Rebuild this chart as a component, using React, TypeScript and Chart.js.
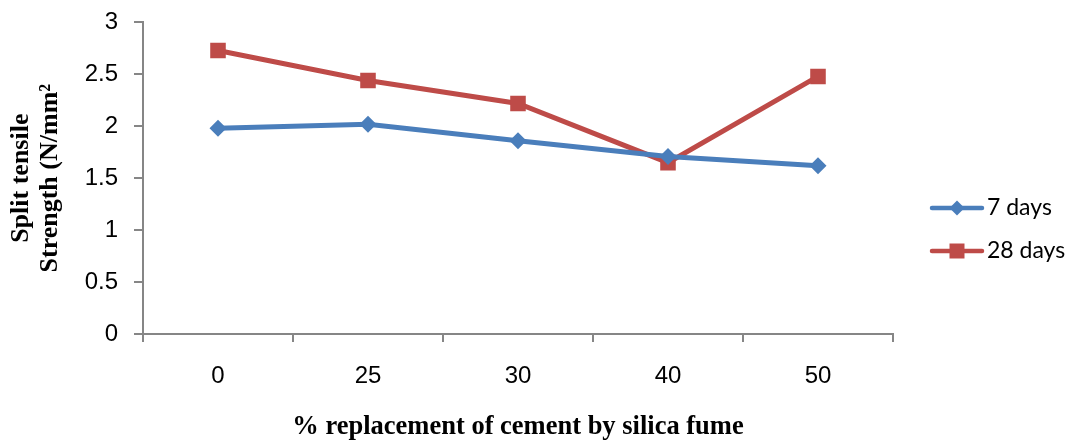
import React, { useEffect, useRef } from "react";
import { Chart, registerables } from "chart.js";

Chart.register(...registerables);

const categories = ["0", "25", "30", "40", "50"];
const days7 = [1.98, 2.02, 1.86, 1.71, 1.62];
const days28 = [2.73, 2.44, 2.22, 1.65, 2.48];
const seriesLabels = ["7 days", "28 days"];
const yTitle = ["Split tensile", "Strength (N/mm\u00B2"];
const xTitle = "% replacement of cement by silica fume";

const BLUE = "#4A7EBB";
const RED = "#BE4B48";
const AXIS = "#868686";
const SHIFT = 8;

const legendPlugin = {
  id: "customLegend",
  afterDraw(chart: any) {
    const ctx = chart.ctx;
    const rows = [208 + SHIFT, 251 + SHIFT];
    chart.data.datasets.forEach((ds: any, i: number) => {
      const y = rows[i];
      ctx.save();
      ctx.strokeStyle = ds.borderColor;
      ctx.lineWidth = 4.5;
      ctx.lineCap = "round";
      ctx.beginPath();
      ctx.moveTo(932, y);
      ctx.lineTo(982, y);
      ctx.stroke();
      ctx.fillStyle = ds.pointBackgroundColor;
      ctx.beginPath();
      if (ds.pointStyle === "rectRot") {
        const r = 7.5;
        ctx.moveTo(957 - r, y);
        ctx.lineTo(957, y - r);
        ctx.lineTo(957 + r, y);
        ctx.lineTo(957, y + r);
        ctx.closePath();
      } else {
        ctx.rect(957 - 7.5, y - 7.5, 15, 15);
      }
      ctx.fill();
      ctx.fillStyle = "#000";
      ctx.font = "23px Lato, 'Liberation Sans', sans-serif";
      ctx.textAlign = "left";
      ctx.textBaseline = "middle";
      ctx.fillText(ds.label, 987, y);
      ctx.restore();
    });
  },
};

export default function App() {
  const ref = useRef<HTMLCanvasElement | null>(null);

  useEffect(() => {
    document.body.style.margin = "0";
    const chart = new Chart(ref.current!, {
      type: "line",
      data: {
        labels: categories,
        datasets: [
          {
            label: seriesLabels[0],
            data: days7,
            borderColor: BLUE,
            backgroundColor: BLUE,
            pointBackgroundColor: BLUE,
            pointBorderColor: BLUE,
            pointStyle: "rectRot",
            pointRadius: 8.5,
            pointBorderWidth: 0,
            borderWidth: 5,
            tension: 0,
          },
          {
            label: seriesLabels[1],
            data: days28,
            borderColor: RED,
            backgroundColor: RED,
            pointBackgroundColor: RED,
            pointBorderColor: RED,
            pointStyle: "rect",
            pointRadius: 11,
            pointBorderWidth: 0,
            borderWidth: 5,
            tension: 0,
          },
        ],
      },
      options: {
        animation: false,
        responsive: false,
        maintainAspectRatio: false,
        layout: { padding: { top: 9, right: 184, bottom: 0, left: 0 } },
        plugins: {
          legend: { display: false },
          tooltip: { enabled: false },
        },
        scales: {
          x: {
            type: "category",
            offset: true,
            afterFit: (s: any) => {
              s.height = 108;
            },
            border: { color: AXIS, width: 2 },
            grid: {
              offset: true,
              drawOnChartArea: false,
              drawTicks: true,
              tickLength: 8,
              color: AXIS,
              lineWidth: 2,
            },
            ticks: {
              color: "#000",
              padding: 20,
              maxRotation: 0,
              font: { family: "'Liberation Sans', sans-serif", size: 24 },
            },
            title: {
              display: true,
              text: xTitle,
              color: "#000",
              font: { family: "'Liberation Serif', serif", size: 26.5, weight: "bold", lineHeight: 1.1 },
              padding: { top: 0, bottom: 0 },
            },
          },
          y: {
            min: 0,
            max: 3,
            afterFit: (s: any) => {
              s.width = 143;
            },
            border: { color: AXIS, width: 2 },
            grid: {
              drawOnChartArea: false,
              drawTicks: true,
              tickLength: 9,
              color: AXIS,
              lineWidth: 2,
            },
            ticks: {
              stepSize: 0.5,
              color: "#000",
              padding: 16,
              font: { family: "'Liberation Sans', sans-serif", size: 24 },
              callback: (v: any) => String(Number(v)),
            },
            title: {
              display: true,
              text: yTitle,
              color: "#000",
              font: { family: "'Liberation Serif', serif", size: 26, weight: "bold", lineHeight: 1.12 },
              padding: { top: 7, bottom: 0 },
            },
          },
        },
      },
      plugins: [legendPlugin],
    } as any);
    return () => chart.destroy();
  }, []);

  return (
    <div style={{ position: "fixed", left: 0, top: 0, width: 1077, height: 442, background: "#fff", overflow: "hidden" }}>
      <canvas
        ref={ref}
        width={1077}
        height={442 + SHIFT}
        style={{ position: "absolute", left: 0, top: -SHIFT, width: 1077, height: 442 + SHIFT }}
      />
    </div>
  );
}
